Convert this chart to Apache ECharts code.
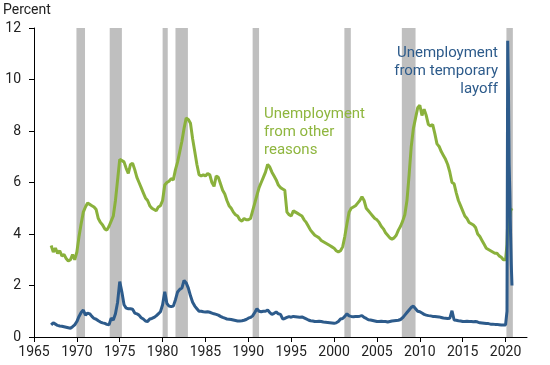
<!DOCTYPE html>
<html>
<head>
<meta charset="utf-8">
<script src="https://cdn.jsdelivr.net/npm/echarts@6/dist/echarts.min.js"></script>
<style>html,body{margin:0;padding:0;background:#fff}#c{width:550px;height:365px}</style>
</head>
<body>
<div id="c"></div>
<script>
// Quarterly values 1967Q1..2019Q4 (percent of labor force)
const startYear = 1967;
const otherReasonsQuarterly = [
  3.55,3.3,3.45,3.25, 3.35,3.15,3.2,3.05, 2.95,3.0,3.2,3.0,
  3.3,3.9,4.4,4.85, 5.05,5.2,5.15,5.1, 5.05,4.95,4.6,4.45,
  4.35,4.2,4.15,4.3, 4.5,4.7,5.3,6.1, 6.9,6.85,6.8,6.55,
  6.35,6.7,6.75,6.5, 6.2,6.0,5.8,5.6, 5.4,5.3,5.1,5.0,
  4.95,4.9,5.05,5.1, 5.3,5.9,6.0,6.05, 6.15,6.1,6.5,6.8,
  7.2,7.6,8.1,8.5, 8.45,8.3,7.7,7.2, 6.7,6.3,6.25,6.3,
  6.25,6.35,6.3,6.0, 5.85,6.25,6.2,5.95, 5.7,5.55,5.3,5.1,
  5.0,4.85,4.75,4.7, 4.55,4.5,4.6,4.55, 4.55,4.6,4.9,5.2,
  5.5,5.8,6.0,6.2, 6.4,6.7,6.6,6.4, 6.25,6.1,5.9,5.8,
  5.75,5.7,4.85,4.75, 4.7,4.9,4.85,4.8, 4.75,4.7,4.55,4.45,
  4.3,4.15,4.05,3.95, 3.9,3.85,3.75,3.7, 3.65,3.6,3.55,3.5,
  3.45,3.35,3.3,3.35, 3.5,3.9,4.4,4.85, 5.0,5.05,5.1,5.2,
  5.3,5.45,5.3,5.0, 4.9,4.8,4.7,4.6, 4.55,4.45,4.3,4.2,
  4.05,3.95,3.85,3.8, 3.85,3.95,4.15,4.3, 4.5,4.75,5.3,6.3,
  7.4,8.1,8.5,8.9, 9.0,8.6,8.85,8.6, 8.25,8.2,8.25,7.9,
  7.5,7.4,7.2,7.05, 6.9,6.7,6.4,6.0, 5.95,5.6,5.3,5.1,
  4.9,4.7,4.6,4.45, 4.4,4.35,4.25,4.0, 3.9,3.75,3.6,3.45,
  3.4,3.35,3.3,3.25, 3.25,3.15,3.1,3.0
];
const tempLayoffQuarterly = [
  0.47,0.55,0.5,0.45, 0.43,0.42,0.4,0.38, 0.36,0.34,0.4,0.47,
  0.6,0.8,0.95,1.05, 0.85,0.93,0.9,0.8, 0.72,0.69,0.63,0.58,
  0.55,0.53,0.49,0.47, 0.73,0.66,0.9,1.35, 2.15,1.75,1.25,1.12,
  1.1,1.1,1.08,0.93, 0.9,0.85,0.75,0.7, 0.62,0.6,0.7,0.72,
  0.76,0.82,0.9,0.98, 1.25,1.76,1.3,1.2, 1.18,1.2,1.45,1.75,
  1.85,1.9,2.2,2.1, 1.9,1.6,1.35,1.2, 1.1,1.0,1.0,0.98,
  0.97,0.98,0.96,0.93, 0.9,0.88,0.85,0.8, 0.76,0.73,0.7,0.69,
  0.68,0.66,0.64,0.62, 0.62,0.63,0.65,0.68, 0.73,0.76,0.82,0.95,
  1.1,1.0,0.98,1.0, 1.0,1.05,0.95,0.88, 0.92,0.97,0.9,0.88,
  0.7,0.72,0.76,0.79, 0.77,0.8,0.79,0.78, 0.77,0.78,0.74,0.7,
  0.66,0.63,0.62,0.6, 0.6,0.61,0.6,0.58, 0.57,0.56,0.55,0.54,
  0.53,0.55,0.6,0.7, 0.72,0.8,0.9,0.82, 0.8,0.79,0.8,0.8,
  0.81,0.83,0.76,0.72, 0.67,0.66,0.64,0.62, 0.6,0.6,0.61,0.6,
  0.6,0.58,0.6,0.62, 0.63,0.64,0.65,0.68, 0.75,0.85,0.95,1.05,
  1.15,1.2,1.1,1.0, 0.98,0.93,0.88,0.85, 0.83,0.82,0.8,0.8,
  0.79,0.78,0.76,0.74, 0.73,0.72,0.73,1.02, 0.66,0.65,0.63,0.62,
  0.6,0.6,0.61,0.6, 0.6,0.59,0.6,0.58, 0.55,0.54,0.53,0.52,
  0.52,0.5,0.5,0.49, 0.49,0.48,0.47,0.47
];
// Monthly values, Jan 2020 .. Oct 2020
const otherReasons2020 = [3.0,2.95,3.6,4.5,4.4,4.6,4.7,4.9,4.85,5.0];
const tempLayoff2020   = [0.47,0.5,1.0,11.5,9.7,6.7,5.6,4.0,2.8,2.0];
// Recession periods (decimal years)
const recessions = [
  [1969.95,1970.95],[1973.83,1975.25],[1980.0,1980.6],[1981.5,1982.95],
  [1990.5,1991.25],[2001.2,2001.95],[2007.9,2009.5],[2020.1,2020.85]
];
const xTicks = [1965,1970,1975,1980,1985,1990,1995,2000,2005,2010,2015,2020];

function build(q, m) {
  const out = q.map((v, i) => [startYear + i / 4, v]);
  m.forEach((v, i) => out.push([2020 + i / 12, v]));
  return out;
}

const GREEN = '#8ab13c';
const BLUE = '#2d5b8b';
const FONT = 'Roboto';

const chart = echarts.init(document.getElementById('c'), null, {renderer: 'canvas'});
chart.setOption({
  animation: false,
  backgroundColor: '#fff',
  grid: {left: 34, right: 23, top: 28, bottom: 28, containLabel: false},
  xAxis: {
    type: 'value', min: 1965, max: 2022.5,
    axisLine: {show: true, lineStyle: {color: '#000', width: 1}},
    axisTick: {show: true, length: 5, lineStyle: {color: '#000'}, customValues: xTicks},
    axisLabel: {color: '#222', fontSize: 14, fontFamily: FONT, margin: 8, customValues: xTicks,
                formatter: v => String(Math.round(v))},
    splitLine: {show: false}
  },
  yAxis: {
    type: 'value', min: 0, max: 12, interval: 2,
    axisLine: {show: true, lineStyle: {color: '#000', width: 1}},
    axisTick: {show: true, length: 5, lineStyle: {color: '#000'}},
    axisLabel: {color: '#222', fontSize: 14, fontFamily: FONT, margin: 13},
    splitLine: {show: false}
  },
  series: [
    {
      type: 'line', data: [], silent: true, z: 1,
      markArea: {
        silent: true,
        itemStyle: {color: '#bfbfbf'},
        data: recessions.map(r => [{xAxis: r[0]}, {xAxis: r[1]}])
      }
    },
    {
      type: 'line', name: 'Unemployment from other reasons',
      data: build(otherReasonsQuarterly, otherReasons2020),
      showSymbol: false, z: 3,
      lineStyle: {color: GREEN, width: 3}
    },
    {
      type: 'line', name: 'Unemployment from temporary layoff',
      data: build(tempLayoffQuarterly, tempLayoff2020),
      showSymbol: false, z: 4,
      lineStyle: {color: BLUE, width: 3}
    }
  ],
  graphic: [
    {type: 'text', z: 100, x: 3, y: 3, style: {text: 'Percent', fill: '#222', font: '14px Roboto', verticalAlign: 'top'}},
    {type: 'text', z: 100, x: 264, y: 105, style: {text: 'Unemployment\nfrom other\nreasons', fill: '#8fb63f', font: '15px Roboto', lineHeight: 18, verticalAlign: 'top'}},
    {type: 'text', z: 100, x: 498, y: 44, style: {text: 'Unemployment\nfrom temporary\nlayoff', fill: BLUE, font: '15px Roboto', lineHeight: 18, align: 'right', verticalAlign: 'top'}}
  ]
});
</script>
</body>
</html>
